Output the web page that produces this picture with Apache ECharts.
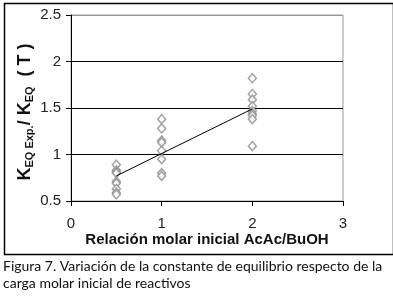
<!DOCTYPE html>
<html>
<head>
<meta charset="utf-8">
<script src="https://cdn.jsdelivr.net/npm/echarts@6/dist/echarts.min.js"></script>
<style>
  html, body { margin: 0; padding: 0; background: #fff; }
  #chart { width: 393px; height: 296px; }
</style>
</head>
<body>
<div id="chart"></div>
<script>
// Scatter of K ratio vs initial molar ratio, with a trend line.
const ratioLow = 0.5;
const valuesLow = [0.89, 0.83, 0.81, 0.80, 0.71, 0.69, 0.63, 0.59, 0.57];
const ratioMid = 1;
const valuesMid = [1.38, 1.28, 1.15, 1.13, 1.04, 0.95, 0.80, 0.77];
const ratioHigh = 2;
const valuesHigh = [1.82, 1.65, 1.59, 1.52, 1.47, 1.44, 1.42, 1.38, 1.09];
const trendX = [0.5, 2];
const trendY = [0.77, 1.49];
const captionLines = [
  'Figura 7. Variación de la constante de equilibrio respecto de la',
  'carga molar inicial de reactivos',
];

const points = [];
valuesLow.forEach(v => points.push([ratioLow, v]));
valuesMid.forEach(v => points.push([ratioMid, v]));
valuesHigh.forEach(v => points.push([ratioHigh, v]));
const trend = trendX.map((x, i) => [x, trendY[i]]);

const chart = echarts.init(document.getElementById('chart'), null, { renderer: 'canvas' });
const font = 'Liberation Sans, Arial, sans-serif';

chart.setOption({
  animation: false,
  backgroundColor: '#fff',
  grid: {
    left: 71, right: 50, top: 15, bottom: 95,
    show: true, borderColor: '#999', borderWidth: 1,
  },
  xAxis: {
    type: 'value', min: 0, max: 3, interval: 1,
    axisLine: { lineStyle: { color: '#000', width: 1 } },
    axisTick: { show: true, length: 5, lineStyle: { color: '#000' } },
    axisLabel: { color: '#222', fontFamily: font, fontSize: 15, margin: 15 },
    splitLine: { show: false },
    name: 'Relación molar inicial AcAc/BuOH',
    nameLocation: 'middle', nameGap: 31, nameMoveOverlap: false,
    nameTextStyle: { color: '#111', fontFamily: font, fontSize: 15, fontWeight: 'bold' },
  },
  yAxis: {
    type: 'value', min: 0.5, max: 2.5, interval: 0.5,
    axisLine: { show: true, lineStyle: { color: '#000', width: 1 } },
    axisTick: { show: true, length: 5, lineStyle: { color: '#000' } },
    axisLabel: { color: '#222', fontFamily: font, fontSize: 15, margin: 10 },
    splitLine: { show: true, lineStyle: { color: ['#000', '#000', '#000', '#000', '#999'], width: 1 } },
    name: '{k|K}{s|EQ Exp.}{k|/ K}{s|EQ}{k|  ( T )}',
    nameLocation: 'middle', nameGap: 36, nameRotate: 90, nameMoveOverlap: false,
    nameTextStyle: {
      color: '#111', fontFamily: font, fontWeight: 'bold',
      padding: [0, 8, 0, 0],
      rich: {
        k: { fontSize: 18, fontWeight: 'bold', fontFamily: font, color: '#111', lineHeight: 20 },
        s: { fontSize: 11, fontWeight: 'bold', fontFamily: font, color: '#111', lineHeight: 13, verticalAlign: 'bottom' },
      },
    },
  },
  series: [
    {
      type: 'scatter', data: points,
      symbol: 'diamond', symbolSize: [8, 9],
      itemStyle: { color: '#fff', borderColor: '#8c8c8c', borderWidth: 1.5 },
      z: 3,
    },
    {
      type: 'line', data: trend, showSymbol: false, symbol: 'none',
      lineStyle: { color: '#000', width: 1 },
      z: 4,
    },
  ],
  graphic: [
    {
      type: 'rect', left: 2, top: 1, z: -1,
      shape: { width: 389, height: 251 },
      style: { fill: 'none', stroke: '#000', lineWidth: 1.5 },
    },
    {
      type: 'text', left: 3, top: 259,
      style: { text: captionLines[0], font: '14px Lato, sans-serif', fill: '#111' },
    },
    {
      type: 'text', left: 3, top: 276,
      style: { text: captionLines[1], font: '14px Lato, sans-serif', fill: '#111' },
    },
  ],
});
</script>
</body>
</html>
